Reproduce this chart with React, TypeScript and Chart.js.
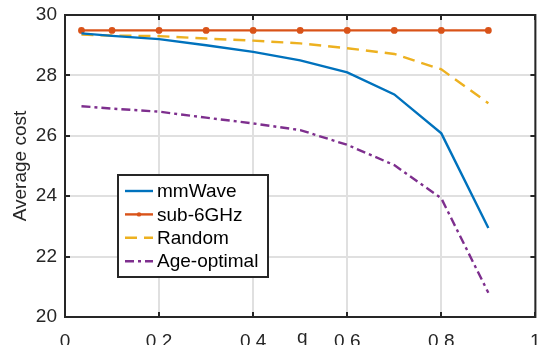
import React, { useEffect, useRef } from 'react';
import { Chart, registerables } from 'chart.js';

Chart.register(...registerables);

const qValues = [0.035, 0.1, 0.2, 0.3, 0.4, 0.5, 0.6, 0.7, 0.8, 0.9];
const mmWave = [29.39, 29.31, 29.2, 29.0, 28.78, 28.5, 28.1, 27.37, 26.08, 22.95];
const sub6GHz = [29.49, 29.49, 29.49, 29.49, 29.49, 29.49, 29.49, 29.49, 29.49, 29.49];
const random = [29.35, 29.32, 29.3, 29.22, 29.15, 29.06, 28.9, 28.71, 28.2, 27.08];
const ageOptimal = [26.98, 26.9, 26.8, 26.6, 26.41, 26.19, 25.7, 25.03, 23.93, 20.8];

const seriesNames = ['mmWave', 'sub-6GHz', 'Random', 'Age-optimal'];
const xTicks = [0, 0.2, 0.4, 0.6, 0.8, 1];
const yTicks = [20, 22, 24, 26, 28, 30];
const xLabel = 'q';
const yLabel = 'Average cost';

const COLORS = ['#0072BD', '#D95319', '#EDB120', '#7E2F8E'];
const DASHES: number[][] = [[], [], [12, 7], [9, 4, 3, 4]];
const FONT = '"Liberation Sans", Arial, Helvetica, sans-serif';
const AXIS = '#262626';

const toPts = (ys: number[]) => ys.map((y, i) => ({ x: qValues[i], y }));

const framePlugin = {
  id: 'framePlugin',
  afterDraw(chart: any) {
    const { ctx, chartArea: a, scales } = chart;
    ctx.save();
    // axes box
    ctx.strokeStyle = AXIS;
    ctx.lineWidth = 2;
    ctx.setLineDash([]);
    ctx.strokeRect(a.left, a.top, a.right - a.left, a.bottom - a.top);
    const tl = 5;
    ctx.beginPath();
    xTicks.forEach((v) => {
      const x = Math.round(scales.x.getPixelForValue(v));
      ctx.moveTo(x, a.bottom); ctx.lineTo(x, a.bottom - tl);
      ctx.moveTo(x, a.top); ctx.lineTo(x, a.top + tl);
    });
    yTicks.forEach((v) => {
      const y = Math.round(scales.y.getPixelForValue(v));
      ctx.moveTo(a.left, y); ctx.lineTo(a.left + tl, y);
      ctx.moveTo(a.right, y); ctx.lineTo(a.right - tl, y);
    });
    ctx.stroke();

    // x label
    ctx.fillStyle = AXIS;
    ctx.font = `19px ${FONT}`;
    ctx.textAlign = 'center';
    ctx.textBaseline = 'alphabetic';
    ctx.fillText(xLabel, scales.x.getPixelForValue(0.5) + 2, 343);

    // y label
    ctx.save();
    ctx.translate(21, (a.top + a.bottom) / 2);
    ctx.rotate(-Math.PI / 2);
    ctx.textBaseline = 'middle';
    ctx.fillText(yLabel, 0, 0);
    ctx.restore();

    // legend
    const lx = 118, ly = 175, lw = 150, lh = 102;
    ctx.fillStyle = '#ffffff';
    ctx.fillRect(lx, ly, lw, lh);
    ctx.strokeStyle = AXIS;
    ctx.lineWidth = 2;
    ctx.strokeRect(lx, ly, lw, lh);
    chart.data.datasets.forEach((ds: any, i: number) => {
      const y = 191 + i * 23.4;
      ctx.strokeStyle = ds.borderColor;
      ctx.lineWidth = ds.borderWidth;
      ctx.setLineDash(ds.borderDash || []);
      ctx.beginPath();
      ctx.moveTo(125, y);
      ctx.lineTo(153, y);
      ctx.stroke();
      ctx.setLineDash([]);
      if (ds.pointRadius > 0) {
        ctx.fillStyle = ds.borderColor;
        ctx.beginPath();
        ctx.arc(139, y, ds.pointRadius, 0, Math.PI * 2);
        ctx.fill();
      }
      ctx.fillStyle = '#000000';
      ctx.font = `19px ${FONT}`;
      ctx.textAlign = 'left';
      ctx.textBaseline = 'middle';
      ctx.fillText(ds.label, 157, y + 1);
    });
    ctx.restore();
  },
};

export default function App() {
  const ref = useRef<HTMLCanvasElement>(null);
  useEffect(() => {
    document.body.style.margin = '0';
    const canvas = ref.current;
    if (!canvas) return;
    const seriesData = [mmWave, sub6GHz, random, ageOptimal];
    const chart = new Chart(canvas, {
      type: 'line',
      data: {
        datasets: seriesData.map((ys, i) => ({
          label: seriesNames[i],
          data: toPts(ys),
          borderColor: COLORS[i],
          backgroundColor: COLORS[i],
          borderWidth: 2.4,
          borderDash: DASHES[i],
          pointRadius: i === 1 ? 2.2 : 0,
          pointHoverRadius: i === 1 ? 2.2 : 0,
          pointStyle: 'circle',
          tension: 0,
          fill: false,
        })),
      },
      options: {
        animation: false,
        responsive: false,
        events: [],
        layout: { padding: { top: 15, right: 2, left: 0, bottom: 0 } },
        plugins: { legend: { display: false }, tooltip: { enabled: false } },
        scales: {
          x: {
            type: 'linear',
            min: 0,
            max: 1,
            afterBuildTicks: (s: any) => { s.ticks = xTicks.map((v) => ({ value: v })); },
            afterFit: (s: any) => { s.height = 28; s.paddingLeft = 0; s.paddingRight = 0; },
            ticks: {
              color: AXIS,
              font: { size: 19, family: FONT },
              padding: 13,
              maxRotation: 0,
              autoSkip: false,
              callback: (v: any) => String(v),
            },
            grid: { color: '#e0e0e0', lineWidth: 2, drawTicks: false },
            border: { display: false },
          },
          y: {
            type: 'linear',
            min: 20,
            max: 30,
            afterBuildTicks: (s: any) => { s.ticks = yTicks.map((v) => ({ value: v })); },
            afterFit: (s: any) => { s.width = 65; s.paddingTop = 0; s.paddingBottom = 0; },
            ticks: {
              color: AXIS,
              font: { size: 19, family: FONT },
              padding: 8,
              autoSkip: false,
              callback: (v: any) => String(v),
            },
            grid: { color: '#e0e0e0', lineWidth: 2, drawTicks: false },
            border: { display: false },
          },
        },
      },
      plugins: [framePlugin],
    });
    return () => chart.destroy();
  }, []);
  return (
    <div style={{ width: 540, height: 345 }}>
      <canvas ref={ref} width={540} height={345} style={{ display: 'block' }} />
    </div>
  );
}
